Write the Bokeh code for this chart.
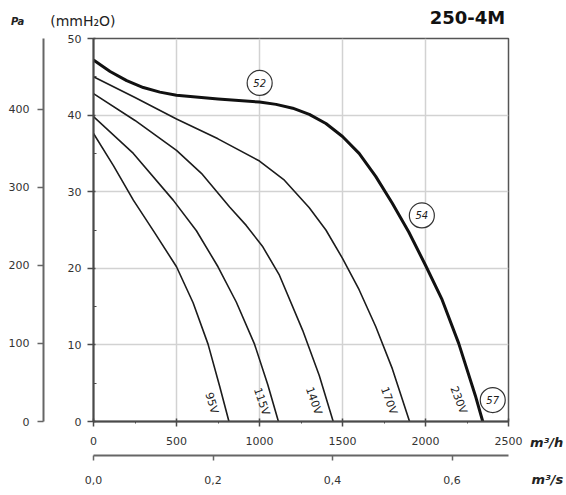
import math
from bokeh.plotting import figure
from bokeh.models import (Range1d, LinearAxis, FixedTicker, Label, ColumnDataSource)
from bokeh.core.properties import value
from bokeh.embed import file_html
from bokeh.resources import INLINE

# ---------------- data (flow m3/h, pressure mmH2O) ----------------
x_230 = [0, 100, 200, 300, 400, 500, 750, 1000, 1100, 1200, 1300, 1400, 1500, 1600, 1700, 1800, 1900, 2000, 2100, 2200, 2300, 2345]
y_230 = [47.2, 45.7, 44.5, 43.6, 43.0, 42.6, 42.1, 41.7, 41.4, 40.9, 40.1, 38.9, 37.2, 35.0, 32.0, 28.5, 24.7, 20.4, 15.9, 10.2, 3.4, 0]

x_170 = [0, 250, 500, 750, 1000, 1150, 1300, 1400, 1500, 1600, 1700, 1800, 1904]
y_170 = [45.0, 42.3, 39.5, 36.9, 34.0, 31.5, 27.9, 25.0, 21.3, 17.2, 12.4, 6.9, 0]

x_140 = [0, 250, 500, 650, 820, 920, 1020, 1120, 1260, 1360, 1444]
y_140 = [42.8, 39.3, 35.4, 32.4, 28.0, 25.6, 22.8, 19.1, 11.9, 6.0, 0]

x_115 = [0, 240, 480, 620, 750, 860, 970, 1050, 1114]
y_115 = [39.8, 35.0, 28.9, 24.9, 20.2, 15.6, 10.1, 4.8, 0]

x_95 = [0, 120, 240, 370, 500, 600, 690, 760, 816]
y_95 = [37.6, 33.4, 28.9, 24.6, 20.2, 15.5, 10.1, 4.6, 0]

curve_names = ["95V", "115V", "140V", "170V", "230V"]
label_x = [712, 1013, 1327, 1780, 2200]
label_y = [2.4, 2.6, 2.7, 2.7, 2.8]
label_angle_deg = [-73, -71, -71, -70, -69]

point_names = ["52", "54", "57"]
point_x = [1001, 1978, 2405]
point_y = [44.2, 26.9, 2.8]

mmh2o_ticks = [0, 10, 20, 30, 40, 50]
mmh2o_minor = [5, 15, 25, 35, 45]
pa_ticks = [0, 100, 200, 300, 400]
m3h_ticks = [0, 500, 1000, 1500, 2000, 2500]
m3h_minor = [250, 750, 1250, 1750, 2250]
m3s_ticks = [0.0, 0.2, 0.4, 0.6]
m3s_labels = ["0,0", "0,2", "0,4", "0,6"]

X_MAX = 2500
Y_MAX = 50
PA_PER_MM = 9.81
M3H_PER_M3S = 3600

FONT = "DejaVu Sans"
INK = "#1c1c1c"
AXC = "#4a4a4a"
TXT = "#333333"

p = figure(frame_width=415, frame_height=383,
           x_range=Range1d(0, X_MAX), y_range=Range1d(0, Y_MAX),
           output_backend="svg", toolbar_location=None,
           min_border_left=93, min_border_right=56, min_border_top=38, min_border_bottom=72,
           background_fill_color="white", border_fill_color="white")
p.outline_line_color = "#555555"
p.outline_line_width = 1.5

# grid
p.xgrid.ticker = FixedTicker(ticks=m3h_ticks)
p.ygrid.ticker = FixedTicker(ticks=mmh2o_ticks)
for g in (p.xgrid[0], p.ygrid[0]):
    g.grid_line_color = "#d2d2d2"
    g.grid_line_width = 1.5

def style_axis(ax, color):
    ax.axis_line_width = 2
    ax.axis_line_color = color
    ax.major_tick_line_color = color
    ax.minor_tick_line_color = color
    ax.major_tick_line_width = 1.5
    ax.major_label_text_font = FONT
    ax.major_label_text_font_size = "11px"
    ax.major_label_text_color = TXT

# mmH2O axis (left, inner)
ya = p.yaxis[0]
ya.ticker = FixedTicker(ticks=mmh2o_ticks, minor_ticks=mmh2o_minor)
ya.major_tick_out = 6
ya.major_tick_in = 2
ya.minor_tick_out = 0
ya.minor_tick_in = 3
ya.major_label_standoff = 6
style_axis(ya, AXC)
ya.axis_label = " "
ya.axis_label_text_font_size = "10px"
ya.axis_label_standoff = 7

# Pa axis (left, outer)
p.extra_y_ranges = {"pa": Range1d(0, Y_MAX * PA_PER_MM)}
pa = LinearAxis(y_range_name="pa", ticker=FixedTicker(ticks=pa_ticks))
pa.major_tick_out = 6
pa.major_tick_in = 0
pa.minor_tick_out = 0
pa.minor_tick_in = 0
pa.major_label_standoff = 8
style_axis(pa, "#666666")
p.add_layout(pa, "left")

# m3/h axis (below, inner)
xa = p.xaxis[0]
xa.ticker = FixedTicker(ticks=m3h_ticks, minor_ticks=m3h_minor)
xa.major_tick_out = 5
xa.major_tick_in = 3
xa.minor_tick_out = 2
xa.minor_tick_in = 0
xa.major_label_standoff = 10
style_axis(xa, AXC)
xa.axis_label = " "
xa.axis_label_text_font_size = "4px"
xa.axis_label_standoff = 0

# m3/s axis (below, outer)
p.extra_x_ranges = {"ms": Range1d(0, X_MAX / M3H_PER_M3S)}
ms = LinearAxis(x_range_name="ms", ticker=FixedTicker(ticks=m3s_ticks))
ms.major_label_overrides = {t: s for t, s in zip(m3s_ticks, m3s_labels)}
ms.major_tick_out = 5
ms.major_tick_in = 0
ms.minor_tick_out = 0
ms.minor_tick_in = 0
ms.major_label_standoff = 15
style_axis(ms, "#666666")
p.add_layout(ms, "below")

# curves
for xs, ys in [(x_95, y_95), (x_115, y_115), (x_140, y_140), (x_170, y_170)]:
    p.line(xs, ys, line_color=INK, line_width=1.6, line_join="round")
p.line(x_230, y_230, line_color="#111111", line_width=3, line_join="round")

# curve labels
lab_src = ColumnDataSource(dict(x=label_x, y=label_y, t=curve_names,
                                a=[math.radians(d) for d in label_angle_deg]))
p.text(x="x", y="y", text="t", angle="a", source=lab_src,
       text_align="center", text_baseline="middle", text_color=INK,
       text_font=value(FONT), text_font_size="11px")

# operating point circles
pt_src = ColumnDataSource(dict(x=point_x, y=point_y, t=point_names))
p.scatter(x="x", y="y", source=pt_src, marker="circle", size=25,
          fill_color="white", line_color="#333333", line_width=1.2)
p.text(x="x", y="y", text="t", source=pt_src, text_align="center",
       text_baseline="middle", text_color=INK, text_font=value(FONT),
       text_font_size="10px", text_font_style="italic")

# header / unit texts, placed in side panels (with spare room) so they are not clipped
hdr = [
    ("above", dict(x=2480, y=52.8, text="250-4M", text_align="right", text_baseline="middle",
                   text_font_size="18px", text_font_style="bold", text_color="#111111")),
    ("above", dict(x=-261, y=52.3, text="(mmH₂O)", text_align="left", text_baseline="middle",
                   text_font_size="14px", text_font_style="normal", text_color="#222222")),
    ("right", dict(x=-457, y=52.2, text="Pa", text_align="center", text_baseline="middle",
                   text_font_size="10px", text_font_style="bold italic", text_color="#222222")),
    ("right", dict(x=2830, y=-5.2, text="m³/h\nm³/s", text_align="right", text_baseline="middle",
                   text_line_height=2.45,
                   text_font_size="13px", text_font_style="bold italic", text_color="#222222")),
]
for side, h in hdr:
    p.add_layout(Label(text_font=FONT, **h), side)

open("out.html", "w").write(file_html(p, INLINE))
